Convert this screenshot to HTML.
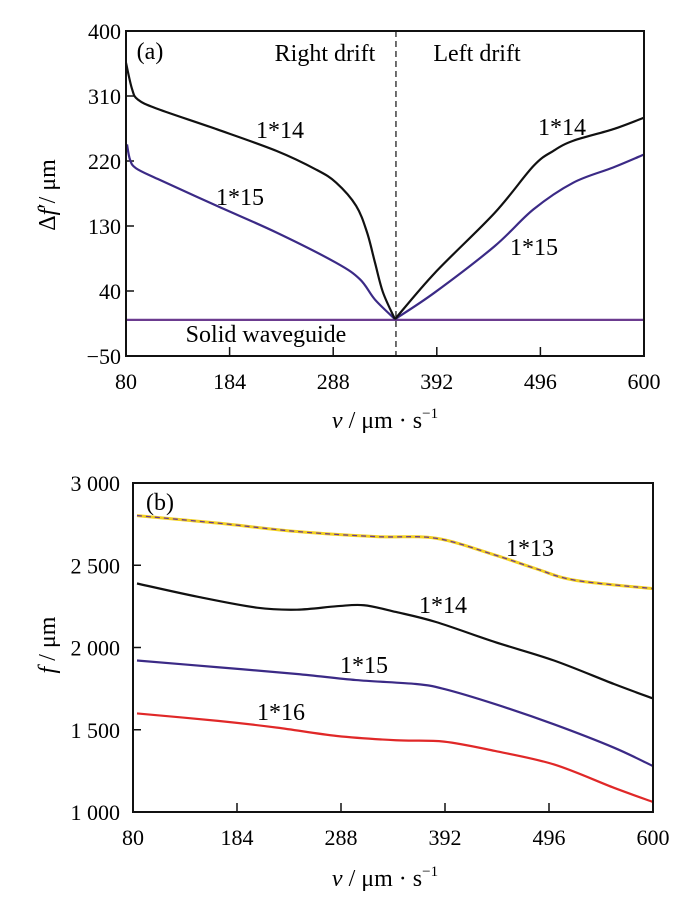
<!DOCTYPE html>
<html><head><meta charset="utf-8"><style>
body{margin:0;background:#fff}
svg{display:block;font-family:"Liberation Serif",serif}
</style></head><body>
<svg id="chart" width="700" height="897" viewBox="0 0 700 897"></svg>
<script>
// Panel (a) data
const aTicksX=[80,184,288,392,496,600];
const aTicksY=[400,310,220,130,40,-50];
const a14LeftV=[80,86,92,112,171,231,271,291,311,322,330,338,350];
const a14LeftF=[356,320,305,292,264,234,208,190,158,121,79,38,1];
const a14RightV=[350,390,450,489,509,529,569,600];
const a14RightF=[1,65,148,213,234,248,264,280];
const a15LeftV=[81,84,90,112,171,231,291,315,330,350];
const a15LeftF=[243,222,210,195,158,121,79,56,28,1];
const a15RightV=[350,390,450,489,529,569,600];
const a15RightF=[1,38,102,153,190,211,229];
const aSolidV=[80,600];
const aSolidF=[0,0];
const aDividerV=351;
// Panel (b) data
const bTicksX=[80,184,288,392,496,600];
const bTicksY=[3000,2500,2000,1500,1000];
const bTickLabels=["3 000","2 500","2 000","1 500","1 000"];
const b13V=[84,165,244,323,383,442,482,522,600];
const b13F=[2802,2756,2705,2674,2664,2562,2481,2409,2358];
const b14V=[84,145,204,244,284,311,343,383,442,501,561,600];
const b14F=[2389,2308,2242,2230,2251,2257,2216,2155,2033,1921,1778,1690];
const b15V=[84,165,244,303,363,391,442,501,561,600];
const b15F=[1921,1880,1839,1802,1778,1748,1656,1533,1391,1279];
const b16V=[84,165,224,284,343,391,442,501,561,600];
const b16F=[1599,1554,1513,1462,1436,1428,1371,1289,1147,1061];

const NS="http://www.w3.org/2000/svg";
const svg=document.getElementById('chart');
function mk(tag,attrs,parent,text){const e=document.createElementNS(NS,tag);for(const k in attrs)e.setAttribute(k,attrs[k]);if(text!==undefined)e.textContent=text;(parent||svg).appendChild(e);return e;}
function scale(d0,d1,r0,r1){return v=>r0+(v-d0)/(d1-d0)*(r1-r0);}
function pathD(xs,ys){const p=xs.map((x,i)=>[x,ys[i]]);if(p.length<3)return "M"+p.map(q=>q.join(",")).join("L");let d="M"+p[0][0]+","+p[0][1];for(let i=0;i<p.length-1;i++){const p0=p[Math.max(i-1,0)],p1=p[i],p2=p[i+1],p3=p[Math.min(i+2,p.length-1)];const c1=[p1[0]+(p2[0]-p0[0])/6,p1[1]+(p2[1]-p0[1])/6],c2=[p2[0]-(p3[0]-p1[0])/6,p2[1]-(p3[1]-p1[1])/6];d+="C"+c1.join(",")+" "+c2.join(",")+" "+p2.join(",");}return d;}
const TF=22, LF=24;

// ---- Panel A ----
const ax=scale(80,600,126,644), ay=scale(400,-50,31,356);
const gA=mk('g',{});


aTicksX.forEach(v=>{const t=mk('line',{x1:ax(v),x2:ax(v),y1:356,y2:347,stroke:'#111','stroke-width':1.5},gA);
const l=mk('text',{x:ax(v),y:389,'text-anchor':'middle','font-size':TF},gA,String(v));});
aTicksY.forEach(v=>{const t=mk('line',{x1:126,x2:134,y1:ay(v),y2:ay(v),stroke:'#111','stroke-width':1.5},gA);
const l=mk('text',{x:121,y:ay(v)+8,'text-anchor':'end','font-size':TF},gA,v<0?"\u2212"+(-v):String(v));});
let e;
e=mk('line',{x1:ax(aDividerV),x2:ax(aDividerV),y1:31,y2:356,stroke:'#222','stroke-width':1.3,'stroke-dasharray':'6,4'},gA);
e=mk('path',{d:pathD(aSolidV.map(ax),aSolidF.map(ay)),stroke:'#6b3b8f','stroke-width':2.2,fill:'none'},gA);
[[a15LeftV,a15LeftF,'#3b2a86','series-1x15-left'],[a15RightV,a15RightF,'#3b2a86','series-1x15-right'],[a14LeftV,a14LeftF,'#111','series-1x14-left'],[a14RightV,a14RightF,'#111','series-1x14-right']].forEach(s=>{const p=mk('path',{d:pathD(s[0].map(ax),s[1].map(ay)),stroke:s[2],'stroke-width':2.2,fill:'none'},gA);});
e=mk('rect',{x:126,y:31,width:518,height:325,fill:'none',stroke:'#111','stroke-width':2},gA);
[["(a)",150,59,'panel-label-a'],["Right  drift",325,61,'right-drift-label'],["Left  drift",477,61,'left-drift-label'],["1*14",280,138,'label-1x14-left'],["1*15",240,205,'label-1x15-left'],["1*14",562,135,'label-1x14-right'],["1*15",534,255,'label-1x15-right'],["Solid waveguide",266,342,'solid-waveguide-label']].forEach(t=>{const l=mk('text',{x:t[1],y:t[2],'text-anchor':'middle','font-size':LF,'xml:space':'preserve'},gA,t[0]);});
e=mk('text',{x:385,y:428,'text-anchor':'middle','font-size':LF,'xml:space':'preserve'},gA);
e.innerHTML='<tspan font-style="italic">v</tspan>  / μm · s<tspan dy="-10" font-size="15">−1</tspan>';
e=mk('text',{transform:'translate(55,195) rotate(-90)','text-anchor':'middle','font-size':LF},gA);
e.innerHTML='Δ<tspan font-style="italic">f</tspan>′/ μm';

// ---- Panel B ----
const bx=scale(80,600,133,653), by=scale(3000,1000,483,812);
const gB=mk('g',{});


bTicksX.forEach(v=>{const t=mk('line',{x1:bx(v),x2:bx(v),y1:812,y2:803,stroke:'#111','stroke-width':1.5},gB);
const l=mk('text',{x:bx(v),y:845,'text-anchor':'middle','font-size':TF},gB,String(v));});
bTicksY.forEach((v,i)=>{const t=mk('line',{x1:133,x2:141,y1:by(v),y2:by(v),stroke:'#111','stroke-width':1.5},gB);
const l=mk('text',{x:120,y:by(v)+8,'text-anchor':'end','font-size':TF},gB,bTickLabels[i]);});
e=mk('path',{d:pathD(b13V.map(bx),b13F.map(by)),stroke:'#f2d020','stroke-width':3,fill:'none'},gB);
e=mk('path',{d:pathD(b13V.map(bx),b13F.map(by)),stroke:'#6a3b8f','stroke-width':1.3,'stroke-dasharray':'5,4',fill:'none'},gB);
[[b14V,b14F,'#111','series-1x14'],[b15V,b15F,'#3b2a86','series-1x15'],[b16V,b16F,'#e02828','series-1x16']].forEach(s=>{const p=mk('path',{d:pathD(s[0].map(bx),s[1].map(by)),stroke:s[2],'stroke-width':2.2,fill:'none'},gB);});
e=mk('rect',{x:133,y:483,width:520,height:329,fill:'none',stroke:'#111','stroke-width':2},gB);
[["(b)",160,510,'panel-label-b'],["1*13",530,556,'label-1x13'],["1*14",443,613,'label-1x14'],["1*15",364,673,'label-1x15'],["1*16",281,720,'label-1x16']].forEach(t=>{const l=mk('text',{x:t[1],y:t[2],'text-anchor':'middle','font-size':LF},gB,t[0]);});
e=mk('text',{x:385,y:886,'text-anchor':'middle','font-size':LF,'xml:space':'preserve'},gB);
e.innerHTML='<tspan font-style="italic">v</tspan>  / μm · s<tspan dy="-10" font-size="15">−1</tspan>';
e=mk('text',{transform:'translate(55,645) rotate(-90)','text-anchor':'middle','font-size':LF},gB);
e.innerHTML='<tspan font-style="italic">f</tspan> / μm';
</script>
</body></html>
